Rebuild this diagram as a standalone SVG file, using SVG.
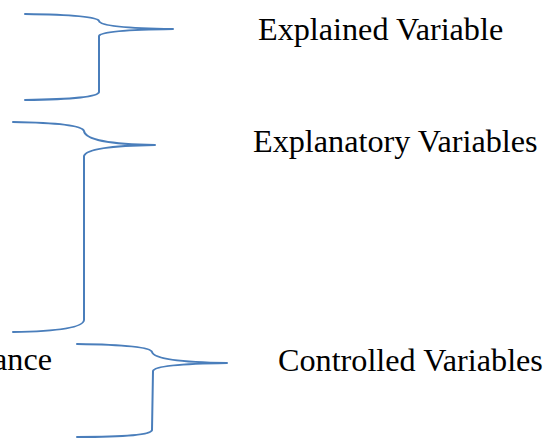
<svg xmlns="http://www.w3.org/2000/svg" width="545" height="438" viewBox="0 0 545 438">
<style>
.brace{fill:none;stroke:#4a7ebb;stroke-width:2;stroke-linejoin:round;stroke-linecap:round}
.lbl{font-family:"Liberation Serif","Times New Roman",serif;font-size:32.2px;fill:#000}
</style>
<rect width="545" height="438" fill="#fff"/>
<g id="explained">
<path class="brace" d="M25,14 Q97,15 99,21 Q101,28 173,29 Q101,30 99,36 L99,92 Q98,99 25,100"/>
<text class="lbl" x="258" y="40">Explained Variable</text>
</g>
<g id="explanatory">
<path class="brace" d="M13,122 Q81,123 84,131 Q86,144 155,145 Q87,146 84,156 L84,320 Q83,331 13,332"/>
<text class="lbl" x="253" y="152">Explanatory Variables</text>
</g>
<g id="controlled">
<path class="brace" d="M77,344 Q150,345 152,352 Q155,362 227,363 Q155,364 153,371 L152,430 Q151,437 77,437"/>
<text class="lbl" x="278" y="371">Controlled Variables</text>
</g>
<g id="performance">
<text class="lbl" x="52" y="370" text-anchor="end">ance</text>
</g>
</svg>
